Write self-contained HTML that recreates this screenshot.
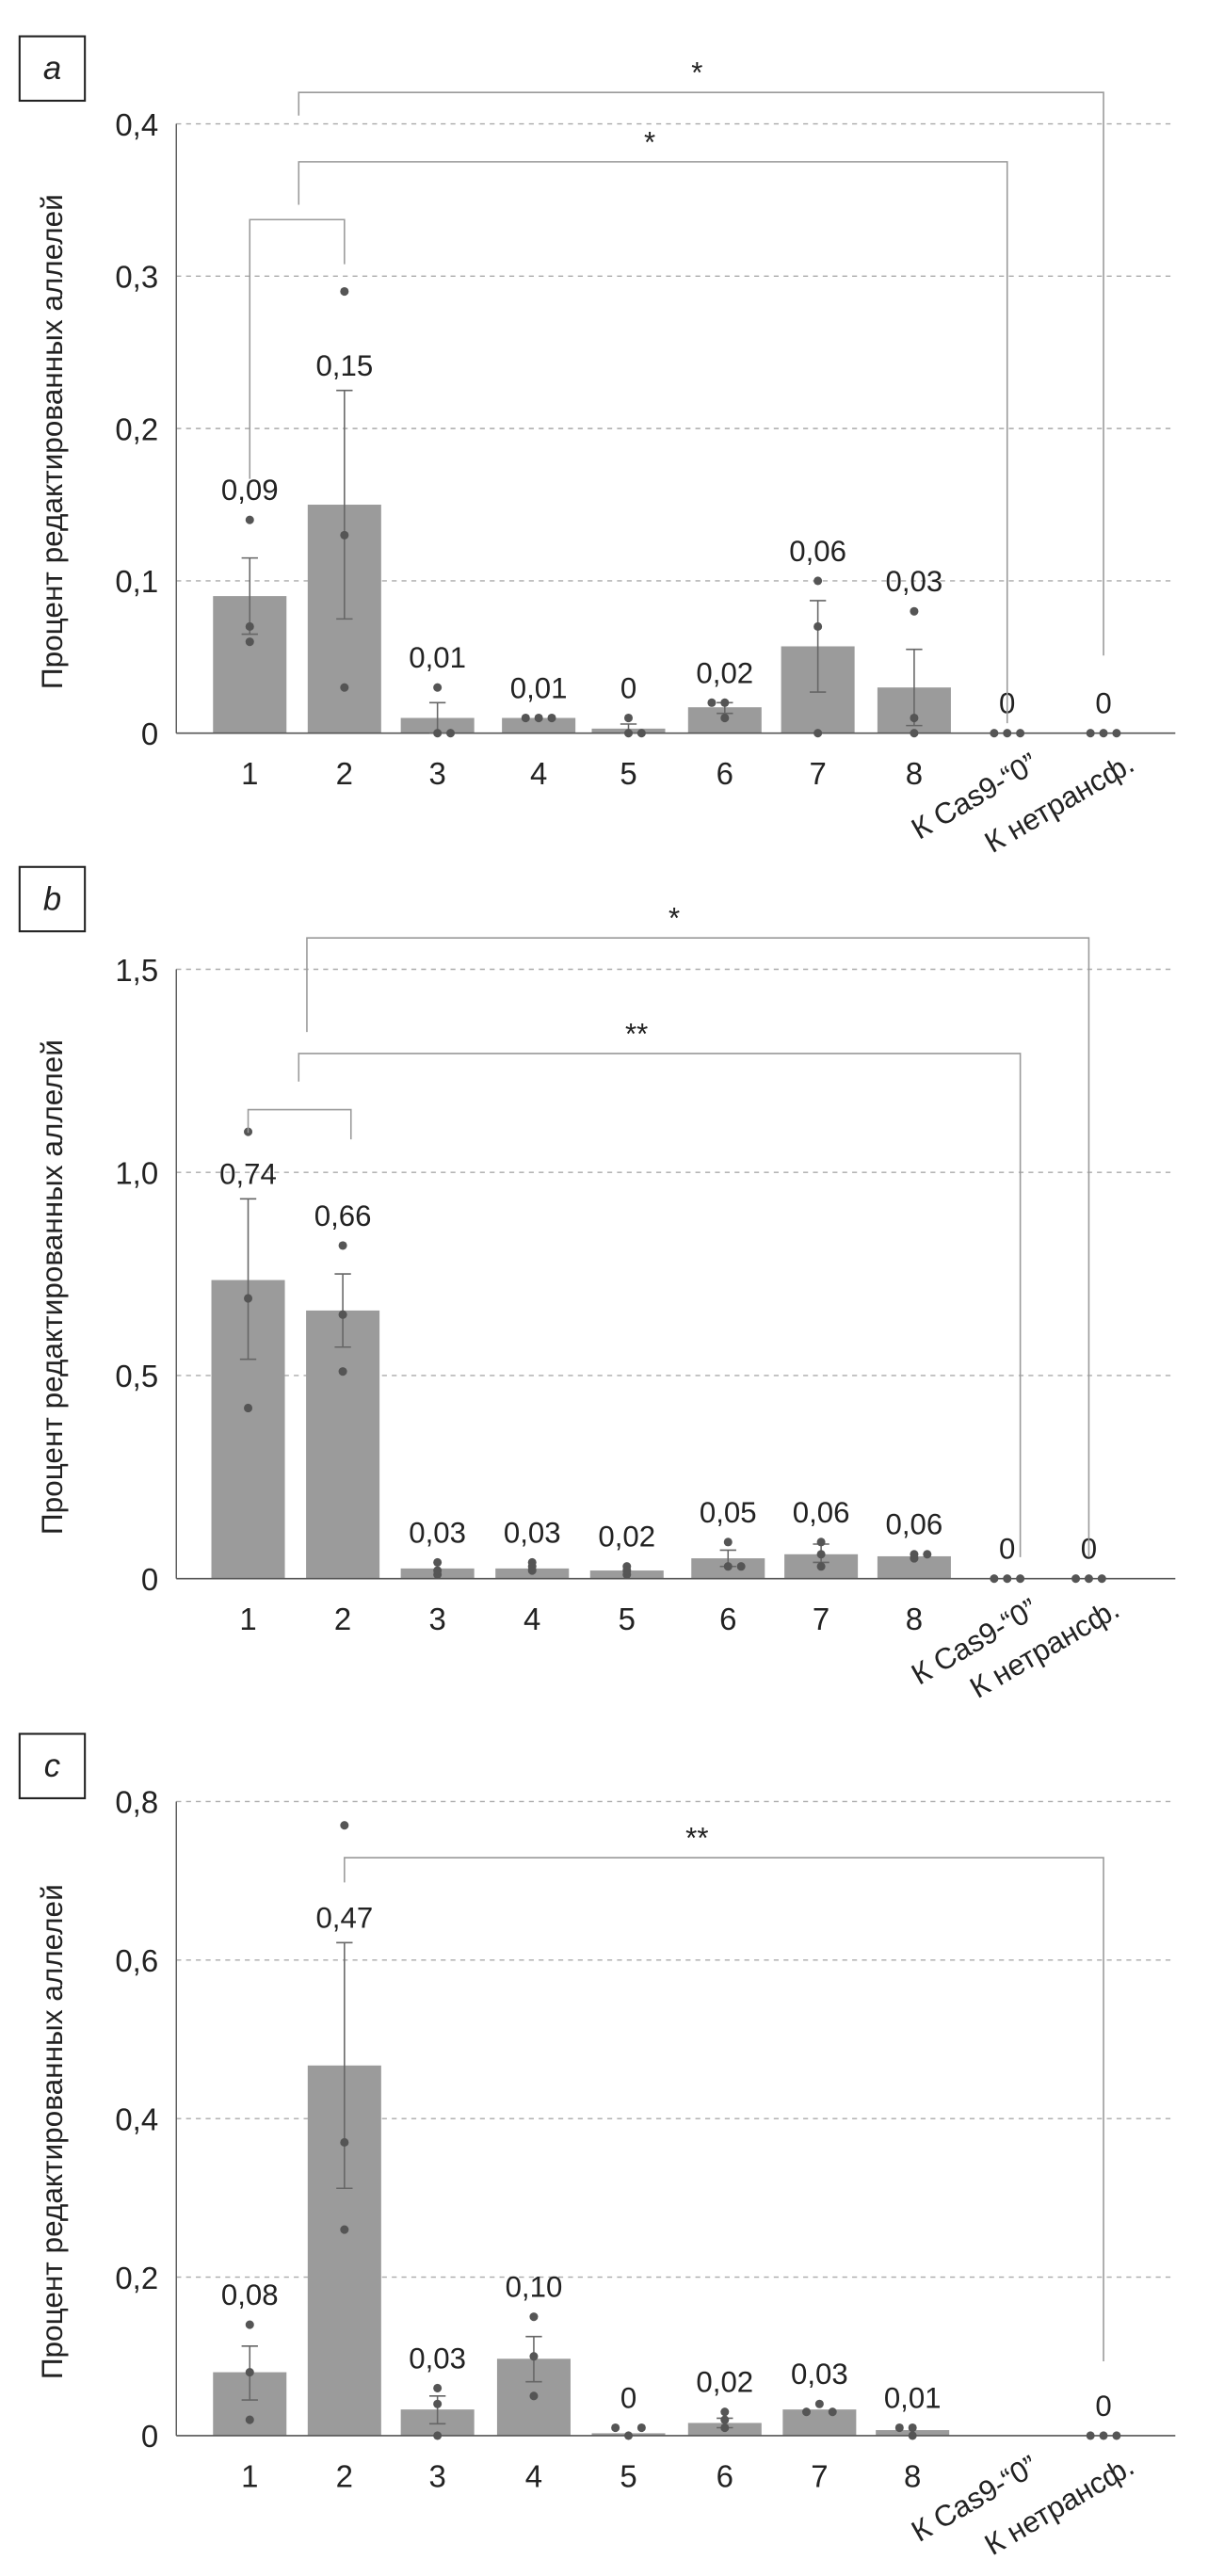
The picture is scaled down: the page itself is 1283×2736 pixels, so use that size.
<!DOCTYPE html>
<html><head><meta charset="utf-8"><style>
html,body{margin:0;padding:0;background:#fff}
svg{display:block}
text{font-family:"Liberation Sans Narrow","Liberation Sans",sans-serif;fill:#222}
</style></head><body>
<svg id="fig" width="1283" height="2736" viewBox="0 0 740 1560" preserveAspectRatio="none" xmlns="http://www.w3.org/2000/svg"></svg>
<script>
const categories=["1","2","3","4","5","6","7","8","К Cas9-“0”","К нетрансф."];
const aMeans=[0.09,0.15,0.01,0.01,0.003,0.017,0.057,0.03,0,0];
const aLabels=["0,09","0,15","0,01","0,01","0","0,02","0,06","0,03","0","0"];
const aErrLo=[0.065,0.075,0,null,0,0.013,0.027,0.005,null,null];
const aErrHi=[0.115,0.225,0.02,null,0.006,0.02,0.087,0.055,null,null];
const aPoints=[[0.14,0.07,0.06],[0.29,0.13,0.03],[0.03,0,0],[0.01,0.01,0.01],[0.01,0,0],[0.02,0.02,0.01],[0.1,0.07,0],[0.08,0.01,0],[0,0,0],[0,0,0]];
const aTicks=[0,0.1,0.2,0.3,0.4];
const aTickLabels=["0","0,1","0,2","0,3","0,4"];
const bMeans=[0.735,0.66,0.025,0.025,0.02,0.05,0.06,0.055,0,0];
const bLabels=["0,74","0,66","0,03","0,03","0,02","0,05","0,06","0,06","0","0"];
const bErrLo=[0.54,0.57,null,null,null,0.03,0.04,null,null,null];
const bErrHi=[0.935,0.75,null,null,null,0.07,0.085,null,null,null];
const bPoints=[[1.1,0.69,0.42],[0.82,0.65,0.51],[0.04,0.01,0.02],[0.04,0.02,0.03],[0.03,0.01,0.02],[0.09,0.03,0.03],[0.09,0.03,0.06],[0.05,0.06,0.06],[0,0,0],[0,0,0]];
const bTicks=[0,0.5,1.0,1.5];
const bTickLabels=["0","0,5","1,0","1,5"];
const cMeans=[0.08,0.467,0.033,0.097,0.003,0.016,0.033,0.007,null,0];
const cLabels=["0,08","0,47","0,03","0,10","0","0,02","0,03","0,01","","0"];
const cErrLo=[0.045,0.312,0.015,0.068,null,0.01,null,null,null,null];
const cErrHi=[0.113,0.622,0.05,0.125,null,0.022,null,null,null,null];
const cPoints=[[0.14,0.08,0.02],[0.77,0.37,0.26],[0.06,0.04,0],[0.15,0.1,0.05],[0.01,0,0.01],[0.03,0.02,0.01],[0.03,0.04,0.03],[0.01,0.01,0],[],[0,0,0]];
const cTicks=[0,0.2,0.4,0.6,0.8];
const cTickLabels=["0","0,2","0,4","0,6","0,8"];

const NS="http://www.w3.org/2000/svg";
const svg=document.getElementById('fig');
function mk(tag,attrs,parent,txt){const e=document.createElementNS(NS,tag);for(const k in attrs)e.setAttribute(k,attrs[k]);if(txt!==undefined)e.textContent=txt;(parent||svg).appendChild(e);return e;}

function panel(cfg){
  const g=mk('g',{});
  
  
  const y0=cfg.y0,yTop=cfg.yTop,max=cfg.max;
  const ys=v=>y0-(v/max)*(y0-yTop);
  const xs=i=>cfg.centers[i];
  const box=mk('rect',{x:12,y:cfg.boxY,width:40,height:39,fill:'none',stroke:'#222','stroke-width':1.2},g);
  
  
  const lt=mk('text',{x:32,y:cfg.boxY+26,'text-anchor':'middle','font-size':20,'font-style':'italic'},g,cfg.id);
  
  
  cfg.ticks.forEach((t,i)=>{
    if(t>0){const gl=mk('line',{x1:108,x2:720,y1:ys(t),y2:ys(t),stroke:'#aaa','stroke-dasharray':'3,3','stroke-width':0.8},g);
      
      }
    const tl=mk('text',{x:97,y:ys(t)+7,'text-anchor':'end','font-size':19},g,cfg.tickLabels[i]);
    
    
  });
  const ya=mk('line',{x1:108,x2:108,y1:yTop,y2:y0,stroke:'#555','stroke-width':0.8},g);
  
  
  const title=mk('text',{x:0,y:0,'text-anchor':'middle','font-size':18,transform:`translate(38,${(y0+yTop)/2+8}) rotate(-90)`},g,'Процент редактированных аллелей');
  
  
  cfg.means.forEach((m,i)=>{
    if(m===null)return;
    const b=mk('rect',{x:xs(i)-22.5,y:ys(m),width:45,height:y0-ys(m),fill:'#9b9b9b'},g);
    
    
  });
  const xa=mk('line',{x1:108,x2:720,y1:y0,y2:y0,stroke:'#555','stroke-width':0.9},g);
  
  
  cfg.errLo.forEach((lo,i)=>{
    if(lo===null)return;const hi=cfg.errHi[i],x=xs(i);
    const e=mk('path',{d:`M${x},${ys(lo)}V${ys(hi)}M${x-5},${ys(lo)}H${x+5}M${x-5},${ys(hi)}H${x+5}`,stroke:'#666','stroke-width':0.9,fill:'none'},g);
    
    
  });
  cfg.points.forEach((ps,i)=>{
    const n=ps.length;
    ps.forEach((p,j)=>{
      let off=0;
      const same=ps.filter(q=>q===p).length>1;
      if(same) off=(j-(n-1)/2)*8;
      const c=mk('circle',{cx:xs(i)+off,cy:ys(p),r:2.6,fill:'#555'},g);
      
      
    });
  });
  cfg.labels.forEach((l,i)=>{
    if(!l)return;
    let top=ys(cfg.means[i]||0);
    if(cfg.errHi[i]!=null) top=Math.min(top,ys(cfg.errHi[i]));
    if(!cfg.skipPts.includes(i)) cfg.points[i].forEach(p=>{top=Math.min(top,ys(p)-3);});
    const t=mk('text',{x:xs(i),y:top-9,'text-anchor':'middle','font-size':18},g,l);
    
    
  });
  categories.forEach((c,i)=>{
    let t;
    if(i<8) t=mk('text',{x:xs(i),y:y0+31,'text-anchor':'middle','font-size':19},g,c);
    else t=mk('text',{x:0,y:0,'text-anchor':'end','font-size':18,transform:`translate(${xs(i)+20},${y0+22}) rotate(-30)`},g,c);
    
    
  });
  cfg.brackets.forEach(bk=>{
    const p=mk('path',{d:`M${bk.x1},${bk.l}V${bk.y}H${bk.x2}V${bk.r}`,stroke:'#999','stroke-width':0.9,fill:'none'},g);
    
    
    if(bk.s){const s=mk('text',{x:bk.sx,y:bk.y-6,'text-anchor':'middle','font-size':18},g,bk.s);
      
      }
  });
}
panel({id:'a',boxY:22,y0:444,yTop:75,max:0.4,centers:[153,211,268,330,385,444,501,560,617,676],
  means:aMeans,labels:aLabels,errLo:aErrLo,errHi:aErrHi,points:aPoints,ticks:aTicks,tickLabels:aTickLabels,skipPts:[1],
  brackets:[{x1:183,l:70,y:56,x2:676,r:397,s:'*',sx:427},{x1:183,l:124,y:98,x2:617,r:438,s:'*',sx:398},{x1:153,l:290,y:133,x2:211,r:160}]});
panel({id:'b',boxY:525,y0:956,yTop:587,max:1.5,centers:[152,210,268,326,384,446,503,560,617,667],
  means:bMeans,labels:bLabels,errLo:bErrLo,errHi:bErrHi,points:bPoints,ticks:bTicks,tickLabels:bTickLabels,skipPts:[0],
  brackets:[{x1:188,l:625,y:568,x2:667,r:943,s:'*',sx:413},{x1:183,l:655,y:638,x2:625,r:943,s:'**',sx:390},{x1:152,l:686,y:672,x2:215,r:690}]});
panel({id:'c',boxY:1050,y0:1475,yTop:1091,max:0.8,centers:[153,211,268,327,385,444,502,559,617,676],
  means:cMeans,labels:cLabels,errLo:cErrLo,errHi:cErrHi,points:cPoints,ticks:cTicks,tickLabels:cTickLabels,skipPts:[1],
  brackets:[{x1:211,l:1140,y:1125,x2:676,r:1430,s:'**',sx:427}]});
</script>
</body></html>
